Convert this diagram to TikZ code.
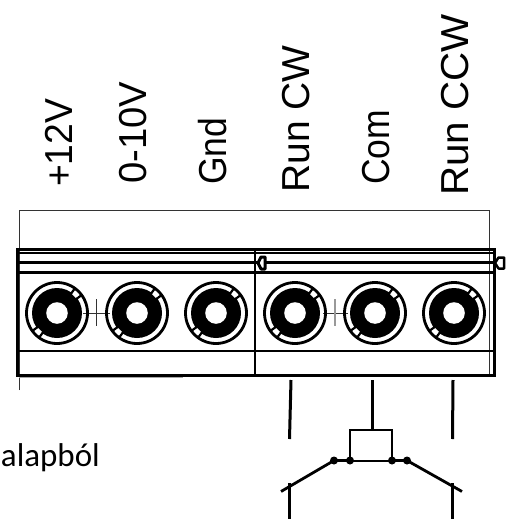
\documentclass[tikz,border=0pt]{standalone}
\usepackage{fontspec}
\setmainfont{Liberation Sans}
\newfontfamily\calfont{Carlito}
\tikzset{
  thinline/.style={draw=black!80,line width=1pt},
  heavy/.style={draw=black,line width=3pt},
  medium/.style={draw=black,line width=2pt},
  lab/.style={rotate=90,anchor=base west,inner sep=0pt,font=\fontsize{39}{39}\selectfont,text=black},
  dotnode/.style={circle,fill=black,inner sep=0pt,minimum size=8pt},
  wirev/.style={draw=black,line width=3pt},
  tagshape/.style={draw=black,line width=2.5pt,fill=white,line join=round}
}
\usetikzlibrary{calc}
\newcommand{\terminal}[2]{%
  \draw[draw=black,line width=2.8pt] (#1,#2) circle (30.5);
  \fill[black] (#1,#2) circle (25);
  \fill[white] (#1,#2) circle (10.8);
  \foreach \a in {-36,-54,-216,-234} {\draw[black,line width=2.2pt] ($(#1,#2)+(\a:24)$) -- ($(#1,#2)+(\a:30)$);}
  \foreach \a in {-45,-225} {\draw[white,line width=5pt] ($(#1,#2)+(\a:24)$) -- ($(#1,#2)+(\a:28.5)$);}
}
\begin{document}
\begin{tikzpicture}[x=1pt,y=-1pt]
\useasboundingbox (0,0) rectangle (509,519);
\clip (0,0) rectangle (509,519);
\fill[white] (0,0) rectangle (509,519);
% thin outline
\draw[thinline] (19,390) -- (19,210) -- (489,210) -- (489,375);
\draw[black!35,line width=1pt] (19,377) -- (183,377);
% body
\draw[heavy] (17,249) rectangle (494,375);
\draw[medium,line width=2.6pt] (17,253) -- (494,253);
\draw[heavy] (17,262.5) -- (494,262.5);
\draw[medium,line width=2.6pt] (17,272.5) -- (494,272.5);
\draw[medium,line width=2.6pt] (17,351) -- (494,351);
\draw[heavy,line width=2.4pt] (255,249) -- (255,375);
% tags
\draw[tagshape,line width=3pt] (258,263) -- (261,257) -- (265,257) -- (265,269) -- (261,269) -- cycle;
\draw[tagshape] (495,263) -- (498.5,257.5) -- (504,257.5) -- (504,268.5) -- (498.5,268.5) -- cycle;
% centre marks
\draw[black!80,line width=0.8pt] (83,313) -- (110,313) (96.7,299) -- (96.7,326);
\draw[black!80,line width=0.8pt] (323,313) -- (348,313);
\draw[black!40,line width=1.4pt] (335,299) -- (335,326);
% terminals
\terminal{57}{313}
\terminal{137}{313}
\terminal{216}{313}
\terminal{295}{313}
\terminal{375}{313}
\terminal{454}{313}
% labels
\node[lab] (l1) at (72,187) {\scalebox{0.955}[1]{+12V}};
\node[lab] (l2) at (146,184) {\scalebox{0.98}[1]{0-10V}};
\node[lab] (l3) at (226,185) {\scalebox{0.91}[1]{Gnd}};
\node[lab] (l4) at (309,193) {Run CW};
\node[lab] (l5) at (389,185) {\scalebox{0.91}[1]{Com}};
\node[lab] (l6) at (468,196) {\scalebox{1.035}[1]{Run CCW}};
\node[anchor=base east,inner sep=0pt,font=\calfont\fontsize{33}{33}\selectfont] (t) at (100,466) {alapból};
% switch
\coordinate (a1) at (291,380); \coordinate (a2) at (289.5,439);
\coordinate (b1) at (372,380); \coordinate (b2) at (372,430);
\coordinate (c1) at (453,380); \coordinate (c2) at (452.5,439);
\draw[wirev] (a1) -- (a2);
\draw[wirev] (b1) -- (b2);
\draw[wirev] (c1) -- (c2);
\coordinate (tl) at (350,430); \coordinate (tr) at (392,430);
\node[dotnode] (d2) at (350,460.5) {};
\node[dotnode] (d3) at (392,460.5) {};
\node[dotnode] (d1) at (334,460.5) {};
\node[dotnode] (d4) at (407,460.5) {};
\draw[medium] (d2.center) -- (tl) -- (tr) -- (d3.center) -- cycle;
\draw[black,line width=2.4pt] (d1.center) -- (d2.center) (d3.center) -- (d4.center);
\coordinate (e1) at (281,491.5); \coordinate (e2) at (462,491.5);
\draw[black,line width=2.8pt] (d1.center) -- (e1);
\draw[black,line width=2.8pt] (d4.center) -- (e2);
\coordinate (f1) at (289.5,483); \coordinate (f2) at (289.5,519);
\coordinate (g1) at (452.5,483); \coordinate (g2) at (452.5,519);
\draw[black,line width=2.2pt] (f1) -- (f2);
\draw[black,line width=2.2pt] (g1) -- (g2);
\end{tikzpicture}
\end{document}
